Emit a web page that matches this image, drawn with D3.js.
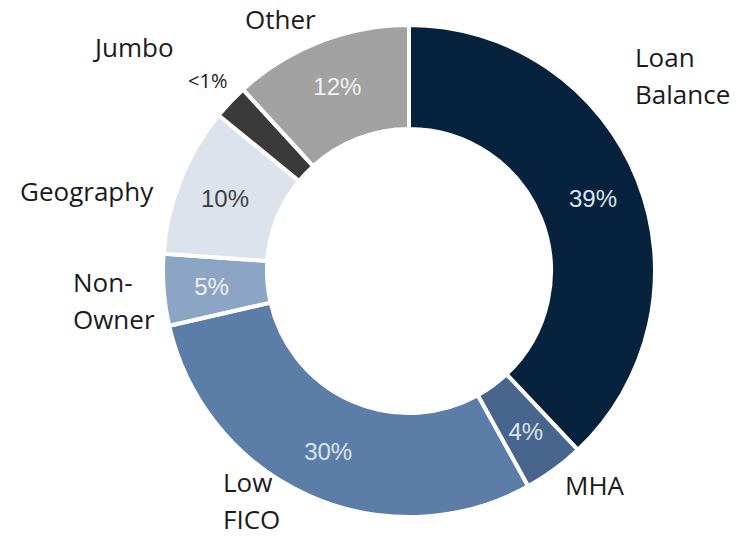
<!DOCTYPE html>
<html>
<head>
<meta charset="utf-8">
<script src="https://cdn.jsdelivr.net/npm/d3@7"></script>
<style>
  body { margin: 0; background: #fff; }
  svg { display: block; }
</style>
</head>
<body>
<svg id="mainsvg"></svg>
<script>
const categories = ["Loan Balance", "MHA", "Low FICO", "Non-Owner", "Geography", "Jumbo", "Other"];
const shares = [38, 4, 29.5, 4.7, 9.8, 2.3, 11.8];
const pctLabels = ["39%", "4%", "30%", "5%", "10%", "<1%", "12%"];

const colors = ["#07223d", "#47658d", "#5c7da7", "#8ca5c4", "#dde3ed", "#3a3a3a", "#a2a2a2"];
const pctColors = ["#dbe5ef", "#dbe5ef", "#dbe5ef", "#eef2f7", "#404040", "#1b1b1b", "#f2f2f2"];

// category label layout (text lines, left x, first baseline)
const catLayout = [
    {lines: ["Loan", "Balance"], x: 635, y: 67},
    {lines: ["MHA"], x: 565, y: 495},
    {lines: ["Low", "FICO"], x: 223, y: 492},
    {lines: ["Non-", "Owner"], x: 73, y: 292},
    {lines: ["Geography"], x: 20, y: 201},
    {lines: ["Jumbo"], x: 95, y: 57},
    {lines: ["Other"], x: 245, y: 29}
];

let svgWidth = 744, svgHeight = 536,
    cx = 409, cy = 271,
    outerR = 246, innerR = 142;

let mainsvg = d3.select("#mainsvg").attr("width", svgWidth).attr("height", svgHeight);
let g = mainsvg.append("g").attr("transform", `translate(${cx},${cy})`);

let data = categories.map((c, i) => ({name: c, value: shares[i], label: pctLabels[i], i: i}));
let pie = d3.pie().sort(null).value(d => d.value);
let arc = d3.arc().innerRadius(innerR).outerRadius(outerR);
let labelArc = d3.arc().innerRadius(198).outerRadius(198);
let outsideArc = d3.arc().innerRadius(277).outerRadius(277);

let arcs = pie(data);
let isSmall = d => (d.endAngle - d.startAngle) < 0.2;

g.selectAll("path.slice").data(arcs).enter().append("path")
    .attr("class", "slice")
    .attr("d", arc)
    .attr("fill", d => colors[d.data.i])
    .attr("stroke", "#fff")
    .attr("stroke-width", 4)
    .attr("stroke-linejoin", "miter");

// percentage labels; tiny slice gets its label outside the ring
g.selectAll("text.pct").data(arcs).enter().append("text")
    .attr("class", "pct")
    .attr("transform", d => {
        let p = (isSmall(d) ? outsideArc : labelArc).centroid(d);
        return `translate(${p[0]},${p[1]})`;
    })
    .attr("text-anchor", "middle")
    .attr("dy", "0.36em")
    .style("font-family", d => isSmall(d) ? "'Open Sans', sans-serif" : "'Liberation Sans', Arial, sans-serif")
    .style("font-size", d => isSmall(d) ? "20px" : "24px")
    .attr("fill", d => pctColors[d.data.i])
    .text(d => d.data.label);

// category names
let cat = mainsvg.append("g").attr("class", "cats");
catLayout.forEach(c => {
    let t = cat.append("text")
        .attr("x", c.x).attr("y", c.y)
        .style("font-family", "'Open Sans', sans-serif")
        .style("font-size", "26px")
        .attr("fill", "#1b1b1b");
    c.lines.forEach((l, k) => {
        t.append("tspan").attr("x", c.x).attr("y", c.y + k * 37).text(l);
    });
});
</script>
</body>
</html>
